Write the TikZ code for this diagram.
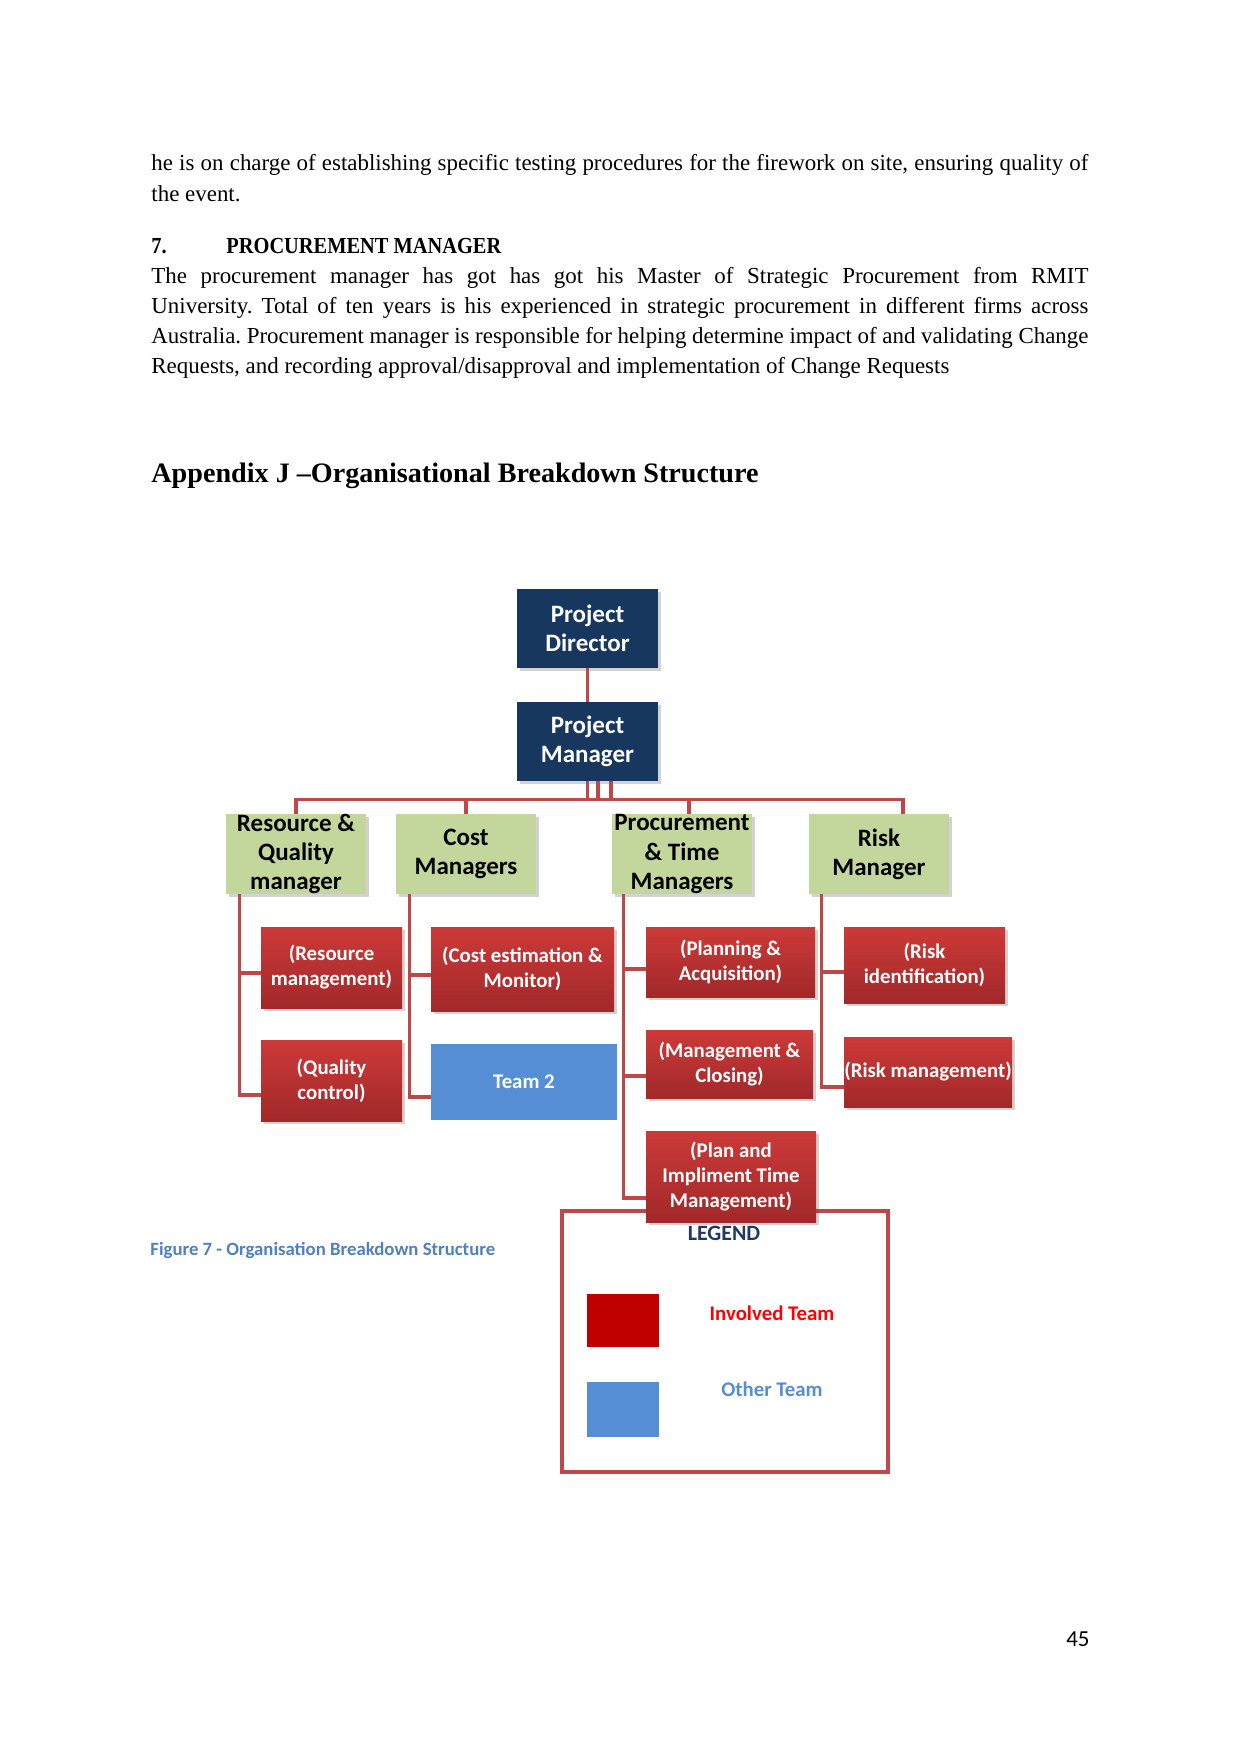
\documentclass[tikz,border=0pt]{standalone}
\usepackage{fontspec}
\setmainfont{Liberation Serif}
\newfontfamily\calfont{Carlito}
\usetikzlibrary{calc,shadows}
\definecolor{navy}{RGB}{23,55,94}
\definecolor{olivel}{RGB}{195,214,155}
\definecolor{redtop}{RGB}{204,58,56}
\definecolor{redbot}{RGB}{162,40,42}
\definecolor{linkc}{RGB}{190,72,72}
\definecolor{blueteam}{RGB}{85,142,213}
\definecolor{legred}{RGB}{192,0,0}
\definecolor{capblue}{RGB}{79,129,189}
\definecolor{legnavy}{RGB}{31,56,100}
\frenchspacing
\begin{document}
\begin{tikzpicture}[x=0.4797pt,y=-0.4797pt,
 wh/.style 2 args={minimum width={#1*0.4797pt}, minimum height={#2*0.4797pt}},
 shad/.style={drop shadow={shadow xshift=1.2pt,shadow yshift=-1.2pt,opacity=0.25,fill=black!70}},
 nbox/.style={rectangle,inner sep=0pt,fill=navy,shad},
 gbox/.style={rectangle,inner sep=0pt,fill=olivel,shad},
 rbox/.style={rectangle,inner sep=0pt,top color=redtop,bottom color=redbot,shad},
 bbox/.style={rectangle,inner sep=0pt,fill=blueteam},
 ntxt/.style={font=\calfont\bfseries\fontsize{12}{14}\selectfont,align=center,text=white,inner sep=0pt},
 gtxt/.style={font=\calfont\bfseries\fontsize{12}{14}\selectfont,align=center,text=black,inner sep=0pt},
 rtxt/.style={font=\calfont\bfseries\fontsize{10}{12}\selectfont,align=center,text=white,inner sep=0pt},
 conn/.style={draw=linkc,line width=1.5pt},
 body/.style={font=\fontsize{11}{14.4}\selectfont,anchor=base west,inner sep=0pt},
 headf/.style={font=\bfseries\fontsize{11}{13}\selectfont},
]
\fill[white] (0,0) rectangle (1241,1754);
\useasboundingbox (0,0) rectangle (1241,1754);

% ---- text of the page ----
\node[body] (p1a) at (151,171) {\makebox[449.5pt][s]{he is on charge of establishing specific testing procedures for the firework on site, ensuring quality of}};
\node[body] (p1b) at (151,201) {the event.};
\node[body,headf] (h7n) at (151,253) {\scalebox{0.89}[1]{7.}};
\node[body,headf] (h7) at (226,253) {\scalebox{0.89}[1]{PROCUREMENT MANAGER}};
\node[body] (p2a) at (151,283) {\makebox[449.5pt][s]{The procurement manager has got has got his Master of Strategic Procurement from RMIT}};
\node[body] (p2b) at (151,313) {\makebox[449.5pt][s]{University. Total of ten years is his experienced in strategic procurement in different firms across}};
\node[body] (p2c) at (151,343) {\makebox[449.5pt][s]{Australia. Procurement manager is responsible for helping determine impact of and validating Change}};
\node[body] (p2d) at (151,373) {Requests, and recording approval/disapproval and implementation of Change Requests};
\node[body,font=\bfseries\fontsize{13.5}{16}\selectfont] (app) at (151,482) {Appendix J –Organisational Breakdown Structure};

% ---- legend ----
\node[draw=linkc,line width=2pt,fill=white,wh={326}{261},inner sep=0pt] (leg) at (725,1341.5) {};
\node[font=\calfont\bfseries\fontsize{10.5}{12}\selectfont,text=legnavy,inner sep=0pt] (lgt) at (724,1233) {LEGEND};
\node[fill=legred,wh={72}{53},inner sep=0pt] (lr) at (623,1320.5) {};
\node[fill=blueteam,wh={72}{55},inner sep=0pt] (lb) at (623,1409.5) {};
\node[font=\calfont\bfseries\fontsize{10}{12}\selectfont,text=red,inner sep=0pt] (li) at (772,1313) {Involved Team};
\node[font=\calfont\bfseries\fontsize{10}{12}\selectfont,text=blueteam,inner sep=0pt] (lo) at (772,1389) {Other Team};

% ---- boxes ----
\node[nbox,wh={141}{79},label={[ntxt]center:{Project\\Director}}] (pd) at (587.5,628.5) {};
\node[nbox,wh={141}{79},label={[ntxt]center:{Project\\Manager}}] (pm) at (587.5,741.5) {};

\node[gbox,wh={140}{80},label={[gtxt]center:{Resource \&\\Quality\\manager}}] (rq) at (296,854) {};
\node[gbox,wh={140}{80},label={[gtxt]center:{Cost\\Managers}}] (cm) at (466,854) {};
\node[gbox,wh={140}{80},label={[gtxt]center:{Procurement\\\& Time\\Managers}}] (pt) at (682,854) {};
\node[gbox,wh={140}{80},label={[gtxt]center:{Risk\\Manager}}] (rk) at (879,854) {};

\node[rbox,wh={141}{81},label={[rtxt]center:{(Resource\\management)}}] (resm) at (331.5,967.5) {};
\node[rbox,wh={141}{81},label={[rtxt]center:{(Quality\\control)}}] (qc) at (331.5,1080.5) {};
\node[rbox,wh={183}{84},label={[rtxt]center:{(Cost estimation \&\\Monitor)}}] (cem) at (522.5,969) {};
\node[bbox,wh={186}{76},label={[rtxt]center:{Team 2}}] (team) at (524,1082) {};
\node[rbox,wh={169}{70},label={[rtxt]center:{(Planning \&\\Acquisition)}}] (pa) at (730.5,962) {};
\node[rbox,wh={167}{68},label={[rtxt]center:{(Management \&\\Closing)}}] (mc) at (729.5,1064) {};
\node[rbox,wh={170}{91},label={[rtxt]center:{(Plan and\\Impliment Time\\Management)}}] (pit) at (731,1176.5) {};
\node[rbox,wh={161}{76},label={[rtxt]center:{(Risk\\identification)}}] (ri) at (924.5,965) {};
\node[rbox,wh={168}{70},label={[rtxt]center:{(Risk management)}}] (rmg) at (928,1072) {};

% ---- connectors ----
\draw[conn] (pd) -- (pm);
\coordinate (bus) at ($(pm.south)+(0,18)$);
\coordinate (ptc) at ($(pt.north)+(7,0)$);
\coordinate (rkc) at ($(rk.north)+(24,0)$);
\draw[conn] (pm.south) -- (bus);
\draw[conn] ($(pm.south)+(10.5,0)$) -- ++(0,18);
\draw[conn] ($(pm.south)+(23.5,0)$) -- ++(0,18);
\draw[conn] (rq.north) |- (bus) -| (rkc);
\draw[conn] (cm.north) -- (cm.north |- bus);
\draw[conn] (ptc) -- (ptc |- bus);

% resource & quality
\coordinate (rqs) at ($(rq.south west)+(14,0)$);
\coordinate (rqb1) at ($(resm.west)+(0,5.5)$);
\coordinate (rqb2) at ($(qc.west)+(0,14.5)$);
\draw[conn] (rqs) |- (rqb2);
\draw[conn] (rqs |- rqb1) -- (rqb1);
% cost
\coordinate (cms) at ($(cm.south west)+(14,0)$);
\coordinate (cmb1) at ($(cem.west)+(0,6)$);
\coordinate (cmb2) at ($(team.west)+(0,15)$);
\draw[conn] (cms) |- (cmb2);
\draw[conn] (cms |- cmb1) -- (cmb1);
% procurement
\coordinate (pts) at ($(pt.south west)+(12,0)$);
\coordinate (ptb1) at ($(pa.west)+(0,7)$);
\coordinate (ptb2) at ($(mc.west)+(0,12)$);
\coordinate (ptb3) at ($(pit.west)+(0,21.5)$);
\draw[conn] (pts) |- (ptb3);
\draw[conn] (pts |- ptb1) -- (ptb1);
\draw[conn] (pts |- ptb2) -- (ptb2);
% risk
\coordinate (rks) at ($(rk.south west)+(13,0)$);
\coordinate (rkb1) at ($(ri.west)+(0,7)$);
\coordinate (rkb2) at ($(rmg.west)+(0,15)$);
\draw[conn] (rks) |- (rkb2);
\draw[conn] (rks |- rkb1) -- (rkb1);

% ---- caption and page number ----
\node[anchor=base west,inner sep=0pt,font=\calfont\bfseries\fontsize{9}{11}\selectfont,text=capblue] (cap) at (150,1255) {Figure 7 - Organisation Breakdown Structure};
\node[anchor=base east,inner sep=0pt,font=\calfont\fontsize{11}{13}\selectfont] (pg) at (1090,1646) {45};
\end{tikzpicture}
\end{document}
